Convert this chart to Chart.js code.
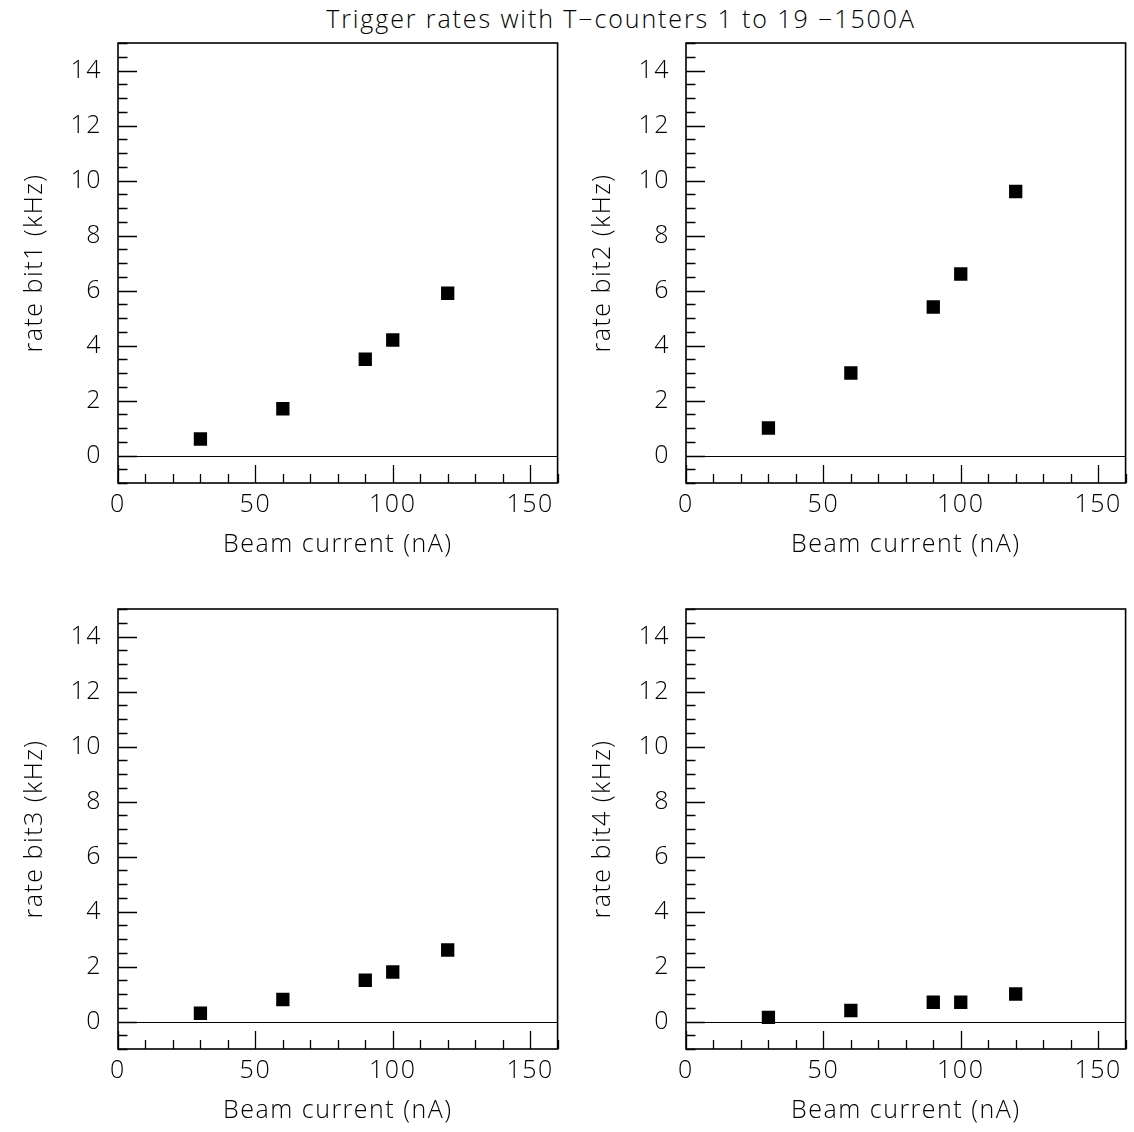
<!DOCTYPE html>
<html>
<head>
<meta charset="utf-8">
<script src="https://cdn.jsdelivr.net/npm/chart.js@4.4.1/dist/chart.umd.min.js"></script>
<style>
  body { margin: 0; background: #fff; }
  #wrap { position: relative; width: 1134px; height: 1132px; }
  .panel { position: absolute; width: 567px; height: 566px; }
  #title {
    position: absolute; left: 0; top: 1px; width: 1242px; text-align: center;
    font: 300 25px 'Open Sans', 'DejaVu Sans', sans-serif; color: #000;
    letter-spacing: 1.9px;
  }
</style>
</head>
<body>
<div id="wrap">
  <div id="title">Trigger rates with T−counters 1 to 19 −1500A</div>
  <div class="panel" style="left:0;top:0"><canvas id="c1" width="567" height="566"></canvas></div>
  <div class="panel" style="left:568px;top:0"><canvas id="c2" width="567" height="566"></canvas></div>
  <div class="panel" style="left:0;top:566px"><canvas id="c3" width="567" height="566"></canvas></div>
  <div class="panel" style="left:568px;top:566px"><canvas id="c4" width="567" height="566"></canvas></div>
</div>
<script>
// beam current settings (nA)
const beamCurrent = [30, 60, 90, 100, 120];

// trigger rates (kHz)
const rateBit1 = [0.6, 1.7, 3.5, 4.2, 5.9];
const rateBit2 = [1.0, 3.0, 5.4, 6.6, 9.6];
const rateBit3 = [0.3, 0.8, 1.5, 1.8, 2.6];
const rateBit4 = [0.15, 0.4, 0.7, 0.7, 1.0];

const panelTitles = ['rate bit1 (kHz)', 'rate bit2 (kHz)', 'rate bit3 (kHz)', 'rate bit4 (kHz)'];
const xLabelEvery = 50;
const yLabelEvery = 2;

const FONT = { family: "'Open Sans', 'DejaVu Sans', sans-serif", size: 25, weight: 300 };

// box, zero line and inward tick marks (major + minor)
const framePlugin = {
    id: 'frame',
    beforeDraw(chart) {
        // the original stroke font is wider, so spread the letters a bit
        chart.ctx.letterSpacing = '1.5px';
    },
    afterDraw(chart) {
        chart.ctx.letterSpacing = '0px';
    },
    beforeDatasetsDraw(chart) {
        const { ctx, chartArea: a, scales: { x, y } } = chart;
        ctx.save();
        ctx.strokeStyle = '#000';

        ctx.lineWidth = 1;
        const y0 = Math.round(y.getPixelForValue(0)) + 0.5;
        ctx.beginPath();
        ctx.moveTo(a.left, y0);
        ctx.lineTo(a.right, y0);
        ctx.stroke();

        ctx.lineWidth = 1.3;
        ctx.beginPath();
        y.ticks.forEach(t => {
            const py = Math.round(y.getPixelForValue(t.value)) + 0.5;
            const len = t.value % yLabelEvery === 0 ? 19 : 9.5;
            ctx.moveTo(a.left, py);
            ctx.lineTo(a.left + len, py);
        });
        x.ticks.forEach(t => {
            const px = Math.round(x.getPixelForValue(t.value)) + 0.5;
            const len = t.value % xLabelEvery === 0 ? 18 : 9;
            ctx.moveTo(px, a.bottom);
            ctx.lineTo(px, a.bottom - len);
        });
        ctx.stroke();

        ctx.lineWidth = 1.6;
        ctx.strokeRect(a.left, a.top, a.right - a.left, a.bottom - a.top);
        ctx.restore();
    }
};

function makePanel(id, rates, yTitle) {
    const ctx = document.getElementById(id).getContext('2d');
    return new Chart(ctx, {
        type: 'scatter',
        data: {
            datasets: [{
                data: beamCurrent.map((b, i) => ({ x: b, y: rates[i] })),
                pointStyle: 'rect',
                pointRadius: 9.4,
                borderWidth: 0,
                backgroundColor: '#000'
            }]
        },
        options: {
            responsive: false,
            animation: false,
            layout: { padding: { top: 43, right: 8, left: 0, bottom: 0 } },
            plugins: { legend: { display: false }, tooltip: { enabled: false } },
            scales: {
                x: {
                    type: 'linear',
                    min: 0,
                    max: 160,
                    afterFit: s => { s.height = 83; },
                    grid: { display: false, drawTicks: false },
                    border: { display: false },
                    ticks: {
                        stepSize: 10,
                        autoSkip: false,
                        maxRotation: 0,
                        padding: 7,
                        color: '#000',
                        font: FONT,
                        callback: v => (v % xLabelEvery === 0 ? String(v) : '')
                    },
                    title: {
                        display: true,
                        text: 'Beam current (nA)',
                        color: '#000',
                        font: FONT,
                        padding: { bottom: 6 }
                    }
                },
                y: {
                    type: 'linear',
                    min: -1,
                    max: 15,
                    afterFit: s => { s.width = 118; },
                    grid: { display: false, drawTicks: false },
                    border: { display: false },
                    ticks: {
                        stepSize: 0.5,
                        autoSkip: false,
                        padding: 16,
                        color: '#000',
                        font: FONT,
                        callback: v => (v >= 0 && v % yLabelEvery === 0 ? String(v) : '')
                    },
                    title: {
                        display: true,
                        text: yTitle,
                        color: '#000',
                        font: FONT,
                        padding: { top: 20 }
                    }
                }
            }
        },
        plugins: [framePlugin]
    });
}

makePanel('c1', rateBit1, panelTitles[0]);
makePanel('c2', rateBit2, panelTitles[1]);
makePanel('c3', rateBit3, panelTitles[2]);
makePanel('c4', rateBit4, panelTitles[3]);
</script>
</body>
</html>
